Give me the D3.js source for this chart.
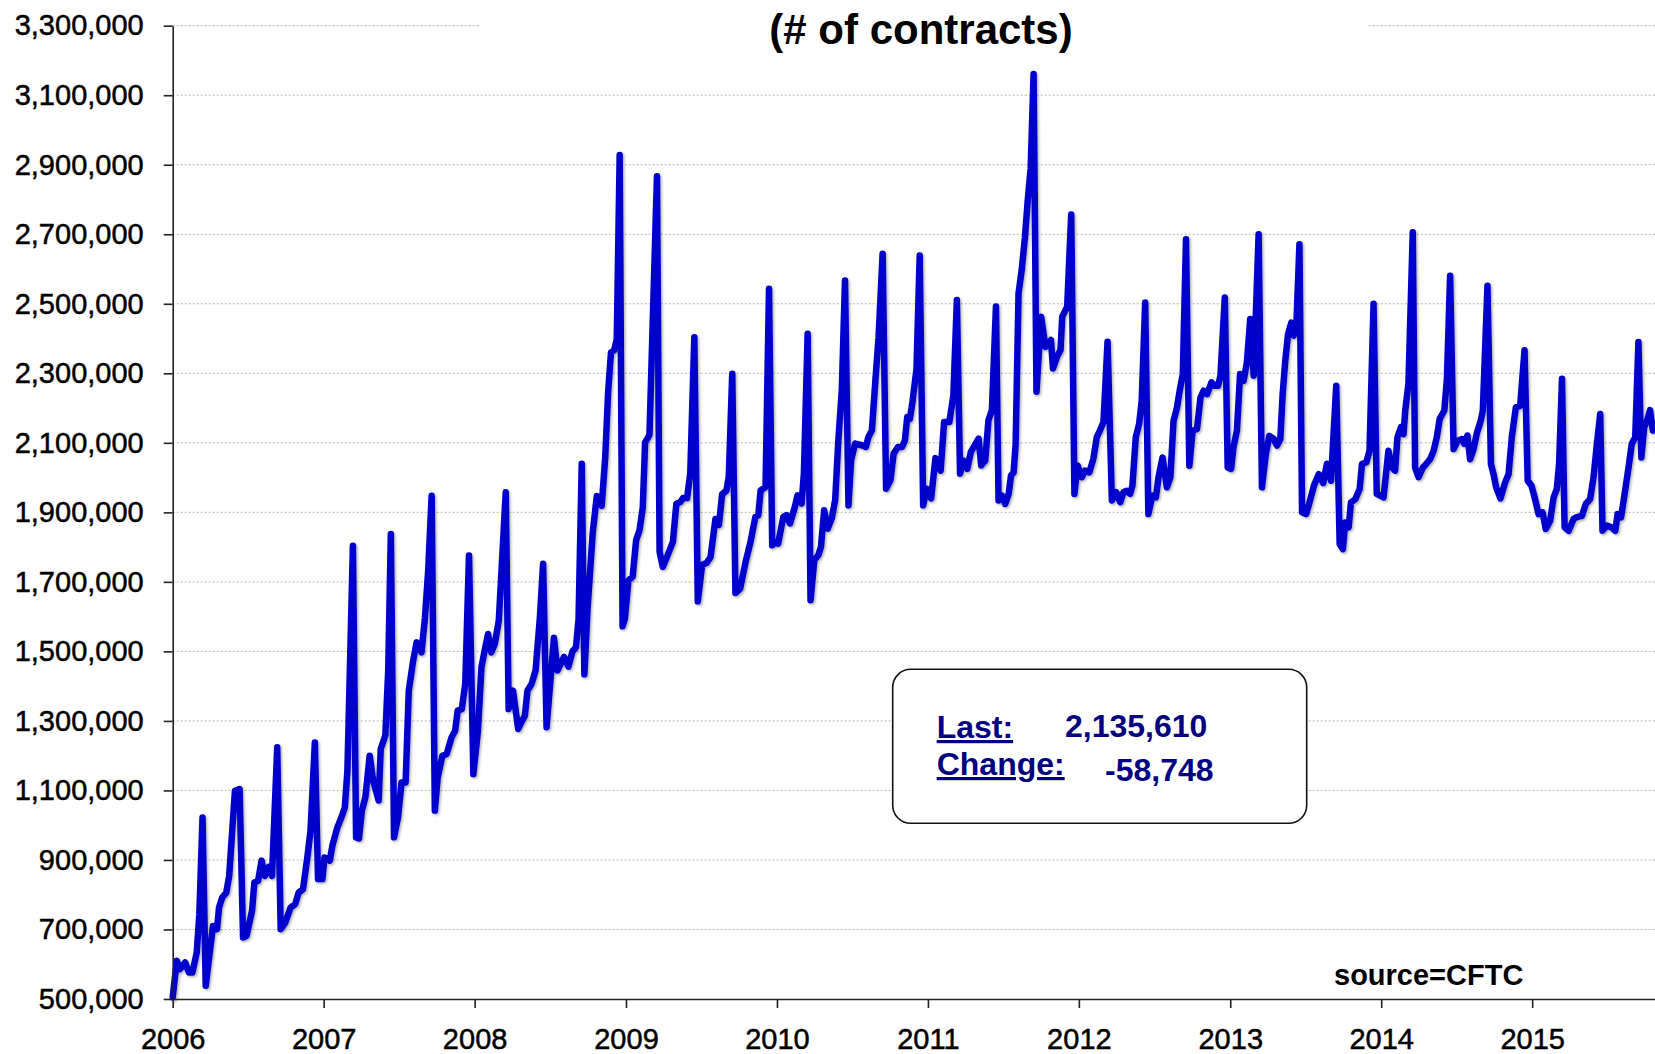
<!DOCTYPE html>
<html>
<head>
<meta charset="utf-8">
<script src="https://cdn.jsdelivr.net/npm/d3@7"></script>
<style>
  body { margin: 0; background: #fff; }
  svg { display: block; }
  .tick text { font-family: "Liberation Sans", Arial, sans-serif; font-size: 29px; fill: #000; stroke: #000; stroke-width: 0.5px; }
</style>
</head>
<body>
<svg id="chart"></svg>
<script>
// weekly open interest, [week of year, thousands of contracts]
var y2006 = [[0,505],[1.4,610],[2.5,586],[4.3,605],[5.6,576],[6.8,576],[8.3,634],[9.2,744],[10.3,1022],[11.4,538],[13.9,710],[15.3,701],[16.0,763],[17.1,792],[18.5,806],[19.5,854],[20.4,965],[21.5,1099],[23.1,1104],[24.3,677],[25.5,682],[27.4,754],[28.2,835],[29.5,840],[30.7,898],[31.8,854],[33.2,880],[34.3,854],[36.1,1224],[37.3,701],[38.9,720],[40.7,763],[42.3,773],[43.5,806],[45.0,816],[46.5,907],[47.6,984],[49.1,1238],[50.2,845],[51.7,845]];
var y2007 = [[0.3,907],[2.1,898],[3.0,941],[4.7,993],[6.1,1022],[7.3,1051],[8.2,1156],[10.1,1804],[11.2,965],[12.2,962],[13.2,1042],[14.4,1080],[15.9,1200],[17.1,1128],[19.0,1071],[19.7,1219],[21.3,1258],[22.3,1445],[23.2,1838],[24.3,965],[25.7,1023],[26.9,1123],[28.3,1123],[29.4,1387],[30.9,1473],[32.1,1526],[33.8,1497],[35.0,1598],[36.1,1732],[37.3,1948],[38.4,1042],[39.4,1138],[41.0,1200],[42.5,1205],[44.2,1253],[45.4,1272],[46.3,1330],[47.7,1334],[48.9,1406],[50.2,1776],[51.7,1147]];
var y2008 = [[1.15,1272],[2.35,1454],[3.45,1502],[4.65,1550],[5.75,1497],[6.95,1521],[8.35,1589],[10.75,1958],[11.75,1334],[13.25,1387],[15.05,1277],[16.15,1296],[17.35,1315],[18.25,1387],[19.65,1406],[21.05,1445],[22.55,1598],[23.65,1752],[24.85,1282],[27.4,1539],[28.6,1445],[30.9,1484],[32.4,1456],[33.8,1500],[35.0,1512],[35.9,1594],[37.0,2040],[37.9,1434],[39.0,1622],[40.8,1842],[42.2,1947],[43.9,1919],[45.1,2057],[46.1,2244],[47.1,2360],[48.2,2366],[49.1,2399],[50.1,2928],[51.1,1572],[51.9,1594]];
var y2009 = [[0.84,1704],[2.3,1715],[3.5,1820],[4.65,1848],[5.8,1914],[6.6,2101],[8.1,2123],[10.7,2867],[11.6,1787],[12.7,1743],[14.1,1771],[16.2,1815],[17.4,1925],[18.8,1930],[19.7,1941],[21.1,1941],[22.2,2013],[23.6,2404],[24.8,1644],[26.3,1749],[27.8,1754],[29.2,1771],[30.9,1881],[32.1,1864],[33.2,1952],[34.7,1963],[35.5,2002],[36.7,2299],[37.8,1668],[39.4,1680],[41.3,1757],[43.0,1815],[44.7,1887],[45.7,1892],[46.5,1963],[48.2,1973],[49.4,2543],[50.5,1805],[51.5,1815]];
var y2010 = [[0.4,1810],[2.2,1887],[3.3,1892],[4.5,1868],[6.2,1916],[7.1,1949],[8.5,1925],[9.3,2011],[10.6,2414],[11.6,1647],[12.9,1762],[14.3,1777],[15.2,1801],[16.3,1906],[17.5,1853],[18.9,1882],[20.1,1935],[21.2,2107],[22.4,2251],[23.5,2567],[24.7,1920],[25.6,2050],[27.0,2098],[29.3,2093],[30.7,2088],[31.6,2117],[32.8,2136],[34.0,2280],[35.1,2404],[36.5,2644],[37.7,1968],[39.2,1992],[40.3,2069],[41.8,2088],[43.2,2088],[44.2,2107],[45.0,2174],[45.9,2169],[46.8,2217],[48.2,2313],[49.3,2639],[50.5,1920],[51.7,1968]];
var y2011 = [[1.1,1940],[2.6,2056],[4.4,2020],[5.6,2160],[7.4,2160],[8.8,2237],[10.0,2511],[11.1,2011],[12.3,2049],[13.6,2025],[14.8,2073],[16.1,2092],[17.5,2112],[18.4,2035],[19.8,2049],[20.9,2165],[22.1,2194],[23.5,2492],[24.4,1934],[25.6,1948],[26.7,1924],[27.9,1953],[28.7,2006],[29.6,2015],[30.3,2097],[31.3,2530],[32.4,2598],[33.5,2690],[34.5,2800],[35.5,2890],[36.5,3161],[37.5,2247],[39.1,2463],[40.6,2376],[42.5,2396],[43.2,2314],[44.6,2348],[45.8,2367],[46.4,2463],[48.1,2492],[49.5,2757],[50.6,1953],[51.7,2035]];
var y2012 = [[1.0,2001],[2.1,2020],[3.6,2015],[5.0,2054],[6.2,2117],[7.3,2136],[8.5,2160],[9.9,2391],[11.4,1934],[12.9,1958],[14.3,1929],[15.4,1958],[16.5,1962],[17.7,1953],[18.5,1977],[19.65,2116],[20.8,2154],[21.7,2221],[22.9,2504],[24.0,1895],[25.4,1948],[26.6,1943],[27.5,2001],[28.9,2058],[30.4,1972],[31.6,2001],[32.7,2163],[33.9,2202],[34.9,2254],[35.9,2298],[37.0,2686],[38.15,2034],[39.3,2135],[40.8,2140],[42.0,2230],[43.1,2250],[44.3,2240],[45.8,2274],[46.9,2264],[48.1,2264],[48.9,2293],[50.4,2518],[51.4,2029]];
var y2013 = [[0.3,2025],[1.1,2087],[2.3,2135],[3.4,2298],[4.6,2278],[5.75,2331],[6.9,2456],[8.1,2293],[9.8,2700],[10.95,1972],[12.3,2068],[13.5,2120],[15.0,2111],[16.15,2092],[17.3,2111],[18.1,2240],[19.0,2336],[19.96,2413],[21.1,2446],[21.9,2408],[22.8,2430],[23.9,2671],[24.8,1900],[26.2,1895],[27.4,1929],[28.9,1977],[30.6,2010],[32.1,1984],[33.4,2040],[34.8,1991],[36.6,2264],[37.8,1809],[38.9,1794],[39.7,1871],[40.9,1857],[41.7,1929],[43.2,1938],[44.7,1967],[45.5,2039],[47.0,2044],[48.1,2077],[49.5,2500],[50.6,1953],[51.8,1948]];
var y2014 = [[0.8,1943],[2.5,2077],[3.7,2029],[4.8,2020],[5.6,2116],[6.8,2145],[7.7,2125],[8.3,2193],[9.4,2269],[10.9,2706],[11.7,2029],[12.9,2001],[14.4,2029],[16.0,2044],[16.9,2053],[18.1,2077],[19.2,2116],[20.2,2169],[21.8,2193],[22.7,2284],[23.8,2581],[25.0,2082],[26.4,2106],[27.9,2111],[28.7,2097],[29.8,2121],[30.7,2053],[31.9,2082],[33.1,2130],[34.4,2164],[35.1,2193],[36.7,2552],[37.9,2039],[38.8,2010],[39.7,1972],[41.2,1940],[42.8,1986],[44.0,2010],[45.1,2116],[46.5,2202],[48.0,2207],[49.5,2366],[50.6,1991],[51.9,1977]];
var y2015 = [[1.0,1938],[2.2,1895],[3.6,1900],[4.7,1852],[6.2,1876],[7.4,1943],[8.5,1967],[9.3,2039],[10.3,2284],[11.2,1857],[12.6,1847],[14.3,1881],[15.4,1886],[17.2,1890],[18.5,1924],[20.0,1938],[21.2,2001],[22.3,2092],[23.5,2183],[24.3,1847],[25.8,1862],[27.3,1857],[28.7,1847],[29.5,1895],[30.7,1886],[32.1,1962],[33.3,2030],[34.4,2097],[35.6,2116],[36.7,2390],[37.7,2058],[38.7,2145],[39.7,2164],[40.7,2194.358],[41.7,2135.61]];

var years = [2006, 2007, 2008, 2009, 2010, 2011, 2012, 2013, 2014, 2015];
var weekly = [y2006, y2007, y2008, y2009, y2010, y2011, y2012, y2013, y2014, y2015];
var yTicks = d3.range(500000, 3300001, 200000);

var data = [];
years.forEach(function (yr, i) {
  var start = new Date(yr, 0, 1).getTime();
  weekly[i].forEach(function (p) {
    data.push({ date: new Date(start + p[0] * 7 * 864e5), value: Math.round(p[1] * 1000) });
  });
});

var svgWidth = 1655, svgHeight = 1054;
var margin = { top: 25.7, right: 0, bottom: 55, left: 172.7 };
var width = svgWidth - margin.left - margin.right;
var height = svgHeight - margin.top - margin.bottom;

var svg = d3.select('#chart')
  .attr('width', svgWidth)
  .attr('height', svgHeight);

var defs = svg.append('defs');
defs.append('filter')
  .attr('id', 'shadow')
  .attr('x', '-5%').attr('y', '-5%').attr('width', '110%').attr('height', '110%')
  .append('feDropShadow')
  .attr('dx', 1.5).attr('dy', 1.5)
  .attr('stdDeviation', 1)
  .attr('flood-color', '#000')
  .attr('flood-opacity', 0.3);

var g = svg.append('g')
  .attr('transform', 'translate(' + margin.left + ',' + margin.top + ')');

var x = d3.scaleTime()
  .domain([new Date(2006, 0, 1), new Date(2015, 9, 25)])
  .range([0, width]);
var y = d3.scaleLinear()
  .domain([500000, 3300000])
  .range([height, 0]);

// dotted grid
g.append('g')
  .selectAll('line')
  .data(yTicks.slice(1))
  .enter().append('line')
  .attr('x1', 0)
  .attr('x2', width)
  .attr('y1', function (d) { return y(d); })
  .attr('y2', function (d) { return y(d); })
  .attr('stroke', '#b4b4b4')
  .attr('stroke-width', 1)
  .attr('stroke-dasharray', '2,2');

var line = d3.line()
  .x(function (d) { return x(d.date); })
  .y(function (d) { return y(d.value); })
  .curve(d3.curveLinear);

g.append('path')
  .datum(data)
  .attr('fill', 'none')
  .attr('stroke', '#0000cc')
  .attr('stroke-width', 6.5)
  .attr('stroke-linejoin', 'round')
  .attr('stroke-linecap', 'round')
  .attr('filter', 'url(#shadow)')
  .attr('d', line);

var yAxis = g.append('g')
  .call(d3.axisLeft(y)
    .tickValues(yTicks)
    .tickFormat(d3.format(','))
    .tickSize(9)
    .tickSizeOuter(0)
    .tickPadding(20));

var xAxis = g.append('g')
  .attr('transform', 'translate(0,' + height + ')')
  .call(d3.axisBottom(x)
    .ticks(d3.timeYear.every(1))
    .tickFormat(d3.timeFormat('%Y'))
    .tickSize(9)
    .tickSizeOuter(0)
    .tickPadding(20));

[yAxis, xAxis].forEach(function (ax) {
  ax.select('.domain').attr('stroke', '#222').attr('stroke-width', 1.6);
  ax.selectAll('.tick line').attr('stroke', '#222').attr('stroke-width', 1.6);
});

// title, with white backing over the top grid line
svg.append('rect')
  .attr('x', 480).attr('y', 0)
  .attr('width', 887).attr('height', 52)
  .attr('fill', '#fff');
svg.append('text')
  .attr('x', 921)
  .attr('y', 44)
  .attr('text-anchor', 'middle')
  .style('font-family', '"Liberation Sans", Arial, sans-serif')
  .style('font-weight', 'bold')
  .style('font-size', '42px')
  .text('(# of contracts)');

// last / change box
var fmt = d3.formatLocale({ decimal: '.', thousands: ',', grouping: [3], currency: ['$', ''], minus: '-' }).format(',');
var last = data[data.length - 1].value;
var change = last - data[data.length - 2].value;

var box = svg.append('g');
box.append('rect')
  .attr('x', 892.7).attr('y', 669.3)
  .attr('width', 414).attr('height', 154)
  .attr('rx', 18).attr('ry', 18)
  .attr('fill', '#fff')
  .attr('stroke', '#111')
  .attr('stroke-width', 1.6);

var boxText = [
  { t: 'Last:', x: 936.7, y: 738, u: true },
  { t: fmt(last), x: 1065, y: 737, u: false },
  { t: 'Change:', x: 936.7, y: 775, u: true },
  { t: fmt(change), x: 1105, y: 781, u: false }
];
box.selectAll('text')
  .data(boxText)
  .enter().append('text')
  .attr('x', function (d) { return d.x; })
  .attr('y', function (d) { return d.y; })
  .attr('fill', '#000080')
  .attr('text-decoration', function (d) { return d.u ? 'underline' : null; })
  .style('font-family', '"Liberation Sans", Arial, sans-serif')
  .style('font-weight', 'bold')
  .style('font-size', '32px')
  .text(function (d) { return d.t; });

svg.append('text')
  .attr('x', 1334)
  .attr('y', 985)
  .style('font-family', '"Liberation Sans", Arial, sans-serif')
  .style('font-weight', 'bold')
  .style('font-size', '29px')
  .attr('fill', '#000')
  .text('source=CFTC');
</script>
</body>
</html>
